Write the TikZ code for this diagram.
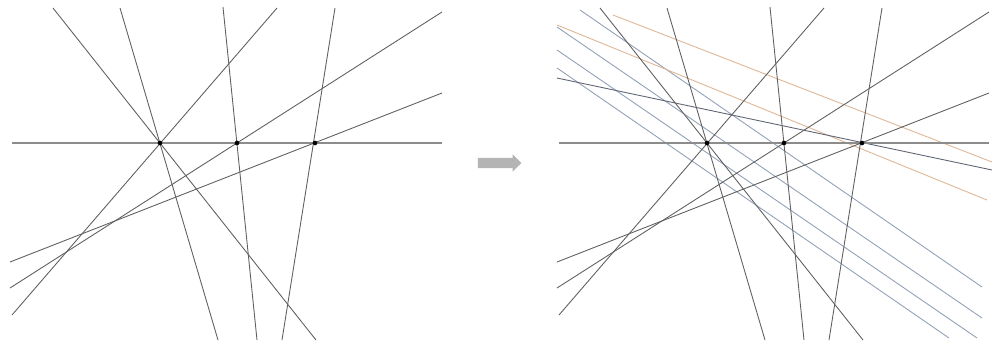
\documentclass[tikz,border=0pt]{standalone}
\usepackage{tikz}
\usetikzlibrary{shapes.arrows,calc}
\definecolor{linegray}{RGB}{95,95,95}
\definecolor{axisgray}{RGB}{140,140,140}
\definecolor{sweepblue}{RGB}{145,160,182}
\definecolor{sweeporange}{RGB}{222,182,150}
\definecolor{sweepdark}{RGB}{95,100,115}
\definecolor{arrowgray}{RGB}{180,180,180}
\tikzset{
    ln/.style={linegray, line width=0.75pt},
    axisline/.style={axisgray, line width=1pt},
    blueline/.style={sweepblue, line width=0.75pt},
    orangeline/.style={sweeporange, line width=0.75pt},
    darkline/.style={sweepdark, line width=0.75pt},
    vertex/.style={circle, fill=black, inner sep=0pt, minimum size=4pt},
    movearrow/.style={single arrow, fill=arrowgray, draw=none, minimum height=1.3cm,
        minimum width=0.5cm, single arrow head extend=0.1cm, inner sep=0.15cm},
}

\begin{document}
\begin{tikzpicture}[x=0.03cm, y=-0.03cm]
    \useasboundingbox (0,0) rectangle (997,354);

    % Swept lines (right panel only)
    \foreach \ax/\ay/\bx/\by in {580/10/982/287, 557/27/982/318, 557/50/977/338, 557/68/949/338} {
        \draw[blueline] (\ax,\ay) -- (\bx,\by);
    }
    \foreach \ax/\ay/\bx/\by in {613/15/992/162, 557/25/987/200} {
        \draw[orangeline] (\ax,\ay) -- (\bx,\by);
    }
    \draw[darkline] (557,78) -- (992,170);

    % Base arrangement, drawn in both panels
    \foreach \pan/\tg in {0/l, 547/r} {
        \begin{scope}[shift={(\pan,0)}]
            \draw[axisline] (12,143) -- (442,143);
            \foreach \ax/\ay/\bx/\by in {53/8/316/340, 120/8/218/340, 277/8/12/315,
                223/7/257/340, 442/12/10/288, 335/8/282/340, 442/93/10/262} {
                \draw[ln] (\ax,\ay) -- (\bx,\by);
            }
            \foreach \i/\px in {1/160, 2/237, 3/315} {
                \node[vertex] (\tg\i) at (\px,143) {};
            }
        \end{scope}
    }

    % Arrow between panels
    \node[movearrow] (go) at (497,163) {};
\end{tikzpicture}
\end{document}
